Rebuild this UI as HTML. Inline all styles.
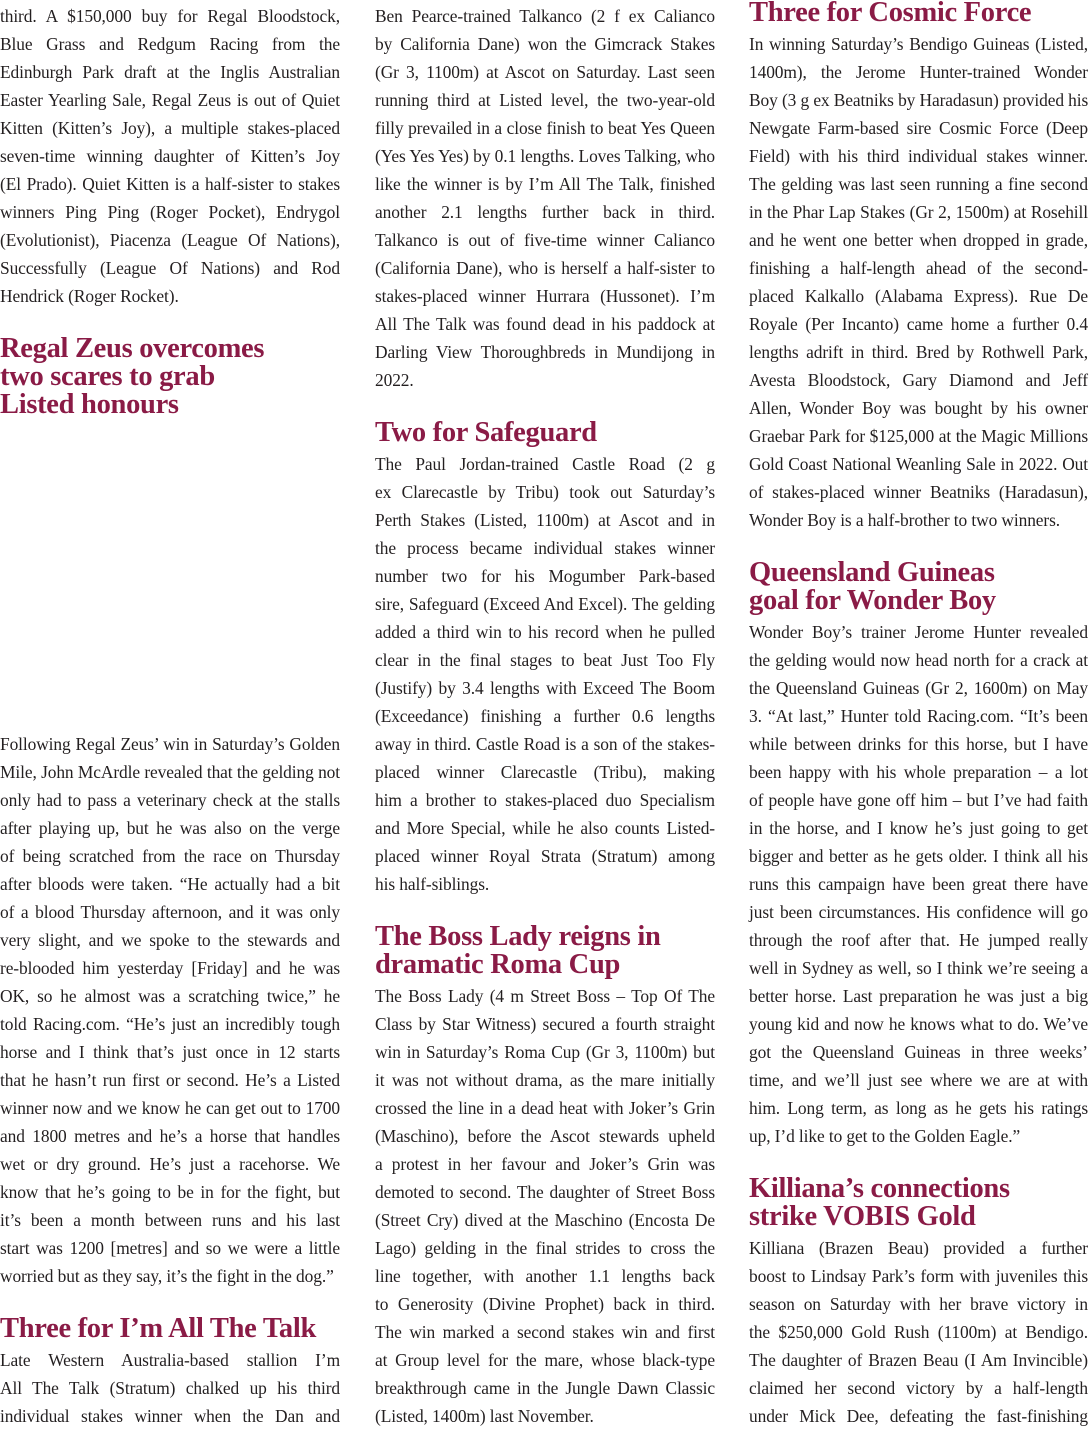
<!DOCTYPE html>
<html><head><meta charset="utf-8">
<style>
body{margin:0;width:1090px;height:1426px;background:#fff;position:relative;overflow:hidden;font-family:"Liberation Serif",serif;color:#231f20}
.s{position:absolute}
.c1{left:0;width:340px}.c2{left:375px;width:340px}.c3{left:749px;width:339px}
.s div{height:28px;line-height:28px;font-size:17.4px;letter-spacing:-0.1px;white-space:nowrap;text-align:justify;text-align-last:justify}
.s div.l{text-align-last:left}
.s.h div{font-size:28.5px;font-weight:bold;color:#8a1b46;letter-spacing:-0.3px;text-align-last:left}
</style></head><body>

<div class="s c1" style="top:2px">
<div>third. A $150,000 buy for Regal Bloodstock,</div>
<div>Blue Grass and Redgum Racing from the</div>
<div>Edinburgh Park draft at the Inglis Australian</div>
<div>Easter Yearling Sale, Regal Zeus is out of Quiet</div>
<div>Kitten (Kitten’s Joy), a multiple stakes-placed</div>
<div>seven-time winning daughter of Kitten’s Joy</div>
<div>(El Prado). Quiet Kitten is a half-sister to stakes</div>
<div>winners Ping Ping (Roger Pocket), Endrygol</div>
<div>(Evolutionist), Piacenza (League Of Nations),</div>
<div>Successfully (League Of Nations) and Rod</div>
<div class="l">Hendrick (Roger Rocket).</div>
</div>
<div class="s c1 h" style="top:335px">
<div>Regal Zeus overcomes</div><div>two scares to grab</div><div>Listed honours</div>
</div>
<div class="s c1" style="top:730px">
<div>Following Regal Zeus’ win in Saturday’s Golden</div>
<div>Mile, John McArdle revealed that the gelding not</div>
<div>only had to pass a veterinary check at the stalls</div>
<div>after playing up, but he was also on the verge</div>
<div>of being scratched from the race on Thursday</div>
<div>after bloods were taken. “He actually had a bit</div>
<div>of a blood Thursday afternoon, and it was only</div>
<div>very slight, and we spoke to the stewards and</div>
<div>re-blooded him yesterday [Friday] and he was</div>
<div>OK, so he almost was a scratching twice,” he</div>
<div>told Racing.com. “He’s just an incredibly tough</div>
<div>horse and I think that’s just once in 12 starts</div>
<div>that he hasn’t run first or second. He’s a Listed</div>
<div>winner now and we know he can get out to 1700</div>
<div>and 1800 metres and he’s a horse that handles</div>
<div>wet or dry ground. He’s just a racehorse. We</div>
<div>know that he’s going to be in for the fight, but</div>
<div>it’s been a month between runs and his last</div>
<div>start was 1200 [metres] and so we were a little</div>
<div class="l">worried but as they say, it’s the fight in the dog.”</div>
</div>
<div class="s c1 h" style="top:1315px"><div>Three for I’m All The Talk</div></div>
<div class="s c1" style="top:1346px">
<div>Late Western Australia-based stallion I’m</div>
<div>All The Talk (Stratum) chalked up his third</div>
<div>individual stakes winner when the Dan and</div>
</div>

<div class="s c2" style="top:2px">
<div>Ben Pearce-trained Talkanco (2 f ex Calianco</div>
<div>by California Dane) won the Gimcrack Stakes</div>
<div>(Gr 3, 1100m) at Ascot on Saturday. Last seen</div>
<div>running third at Listed level, the two-year-old</div>
<div>filly prevailed in a close finish to beat Yes Queen</div>
<div>(Yes Yes Yes) by 0.1 lengths. Loves Talking, who</div>
<div>like the winner is by I’m All The Talk, finished</div>
<div>another 2.1 lengths further back in third.</div>
<div>Talkanco is out of five-time winner Calianco</div>
<div>(California Dane), who is herself a half-sister to</div>
<div>stakes-placed winner Hurrara (Hussonet). I’m</div>
<div>All The Talk was found dead in his paddock at</div>
<div>Darling View Thoroughbreds in Mundijong in</div>
<div class="l">2022.</div>
</div>
<div class="s c2 h" style="top:419px"><div>Two for Safeguard</div></div>
<div class="s c2" style="top:450px">
<div>The Paul Jordan-trained Castle Road (2 g</div>
<div>ex Clarecastle by Tribu) took out Saturday’s</div>
<div>Perth Stakes (Listed, 1100m) at Ascot and in</div>
<div>the process became individual stakes winner</div>
<div>number two for his Mogumber Park-based</div>
<div>sire, Safeguard (Exceed And Excel). The gelding</div>
<div>added a third win to his record when he pulled</div>
<div>clear in the final stages to beat Just Too Fly</div>
<div>(Justify) by 3.4 lengths with Exceed The Boom</div>
<div>(Exceedance) finishing a further 0.6 lengths</div>
<div>away in third. Castle Road is a son of the stakes-</div>
<div>placed winner Clarecastle (Tribu), making</div>
<div>him a brother to stakes-placed duo Specialism</div>
<div>and More Special, while he also counts Listed-</div>
<div>placed winner Royal Strata (Stratum) among</div>
<div class="l">his half-siblings.</div>
</div>
<div class="s c2 h" style="top:923px"><div>The Boss Lady reigns in</div><div>dramatic Roma Cup</div></div>
<div class="s c2" style="top:982px">
<div>The Boss Lady (4 m Street Boss – Top Of The</div>
<div>Class by Star Witness) secured a fourth straight</div>
<div>win in Saturday’s Roma Cup (Gr 3, 1100m) but</div>
<div>it was not without drama, as the mare initially</div>
<div>crossed the line in a dead heat with Joker’s Grin</div>
<div>(Maschino), before the Ascot stewards upheld</div>
<div>a protest in her favour and Joker’s Grin was</div>
<div>demoted to second. The daughter of Street Boss</div>
<div>(Street Cry) dived at the Maschino (Encosta De</div>
<div>Lago) gelding in the final strides to cross the</div>
<div>line together, with another 1.1 lengths back</div>
<div>to Generosity (Divine Prophet) back in third.</div>
<div>The win marked a second stakes win and first</div>
<div>at Group level for the mare, whose black-type</div>
<div>breakthrough came in the Jungle Dawn Classic</div>
<div class="l">(Listed, 1400m) last November.</div>
</div>

<div class="s c3 h" style="top:-1px"><div>Three for Cosmic Force</div></div>
<div class="s c3" style="top:30px">
<div>In winning Saturday’s Bendigo Guineas (Listed,</div>
<div>1400m), the Jerome Hunter-trained Wonder</div>
<div>Boy (3 g ex Beatniks by Haradasun) provided his</div>
<div>Newgate Farm-based sire Cosmic Force (Deep</div>
<div>Field) with his third individual stakes winner.</div>
<div>The gelding was last seen running a fine second</div>
<div>in the Phar Lap Stakes (Gr 2, 1500m) at Rosehill</div>
<div>and he went one better when dropped in grade,</div>
<div>finishing a half-length ahead of the second-</div>
<div>placed Kalkallo (Alabama Express). Rue De</div>
<div>Royale (Per Incanto) came home a further 0.4</div>
<div>lengths adrift in third. Bred by Rothwell Park,</div>
<div>Avesta Bloodstock, Gary Diamond and Jeff</div>
<div>Allen, Wonder Boy was bought by his owner</div>
<div>Graebar Park for $125,000 at the Magic Millions</div>
<div>Gold Coast National Weanling Sale in 2022. Out</div>
<div>of stakes-placed winner Beatniks (Haradasun),</div>
<div class="l">Wonder Boy is a half-brother to two winners.</div>
</div>
<div class="s c3 h" style="top:559px"><div>Queensland Guineas</div><div>goal for Wonder Boy</div></div>
<div class="s c3" style="top:618px">
<div>Wonder Boy’s trainer Jerome Hunter revealed</div>
<div>the gelding would now head north for a crack at</div>
<div>the Queensland Guineas (Gr 2, 1600m) on May</div>
<div>3. “At last,” Hunter told Racing.com. “It’s been</div>
<div>while between drinks for this horse, but I have</div>
<div>been happy with his whole preparation – a lot</div>
<div>of people have gone off him – but I’ve had faith</div>
<div>in the horse, and I know he’s just going to get</div>
<div>bigger and better as he gets older. I think all his</div>
<div>runs this campaign have been great there have</div>
<div>just been circumstances. His confidence will go</div>
<div>through the roof after that. He jumped really</div>
<div>well in Sydney as well, so I think we’re seeing a</div>
<div>better horse. Last preparation he was just a big</div>
<div>young kid and now he knows what to do. We’ve</div>
<div>got the Queensland Guineas in three weeks’</div>
<div>time, and we’ll just see where we are at with</div>
<div>him. Long term, as long as he gets his ratings</div>
<div class="l">up, I’d like to get to the Golden Eagle.”</div>
</div>
<div class="s c3 h" style="top:1175px"><div>Killiana’s connections</div><div>strike VOBIS Gold</div></div>
<div class="s c3" style="top:1234px">
<div>Killiana (Brazen Beau) provided a further</div>
<div>boost to Lindsay Park’s form with juveniles this</div>
<div>season on Saturday with her brave victory in</div>
<div>the $250,000 Gold Rush (1100m) at Bendigo.</div>
<div>The daughter of Brazen Beau (I Am Invincible)</div>
<div>claimed her second victory by a half-length</div>
<div>under Mick Dee, defeating the fast-finishing</div>
</div>
</body></html>
